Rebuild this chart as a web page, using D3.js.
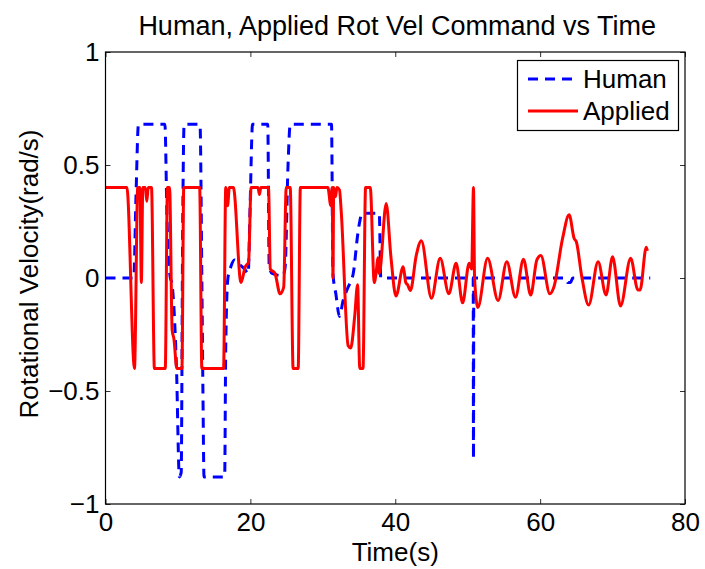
<!DOCTYPE html>
<html>
<head>
<meta charset="utf-8">
<script src="https://cdn.jsdelivr.net/npm/d3@7"></script>
<style>
  html, body { margin: 0; padding: 0; background: #fff; }
  svg text { font-family: "Liberation Sans", Arial, Helvetica, sans-serif; fill: #000; }
</style>
</head>
<body>
<svg id="chart" width="705" height="569"></svg>
<script>
// Human command (blue dashed)
const humanT = [0, 3.9, 4.2, 4.55, 8.2, 8.5, 8.95, 9.15, 9.8, 10.2, 10.45, 10.65, 10.85, 13.05, 13.3, 13.45, 13.6, 16.45, 16.6, 16.9, 17.3, 17.8, 18.5, 19.2, 19.7, 19.95, 20.3, 22.4, 22.6, 23.0, 24.5, 24.8, 25.2, 25.5, 31.2, 31.4, 31.8, 32.3, 32.8, 33.5, 34.2, 34.85, 35.1, 35.4, 37.8, 38.0, 50.76, 50.8, 50.84, 63.5, 63.8, 64.2, 64.5, 75.2];
const humanV = [0, 0, 0.35, 0.68, 0.68, 0.25, 0.0, -0.02, -0.4, -0.88, -0.86, 0.2, 0.68, 0.68, 0.0, -0.5, -0.88, -0.88, -0.3, 0.0, 0.05, 0.08, 0.06, 0.04, 0.02, 0.3, 0.68, 0.68, 0.05, 0.02, 0.01, 0.05, 0.5, 0.68, 0.68, 0.02, -0.07, -0.17, -0.1, -0.04, 0.02, 0.2, 0.25, 0.286, 0.286, 0.0, 0, -0.8, 0, 0, -0.02, -0.02, 0, 0];

// Applied command (red solid)
const appliedT = [0, 2.95, 4.0, 4.45, 4.75, 4.95, 5.15, 5.5, 5.7, 5.9, 6.35, 6.75, 8.25, 8.55, 8.85, 9.2, 9.45, 9.85, 10.55, 10.8, 13.0, 13.3, 16.3, 16.6, 16.85, 17.1, 17.65, 18.7, 19.3, 19.75, 20.1, 21.05, 21.25, 21.45, 22.5, 22.75, 23.4, 24.1, 24.6, 24.95, 25.5, 25.9, 26.6, 26.9, 30.7, 31.1, 31.3, 31.4, 31.5, 31.75, 31.95, 32.3, 32.55, 33.5, 33.85, 34.4, 34.8, 35.1, 35.55, 35.9, 36.55, 37.1, 37.4, 37.6, 37.8, 38.75, 39.4, 40.1, 41.1, 41.45, 41.7, 42.1, 42.9, 43.6, 45.0, 46.2, 47.4, 48.4, 49.3, 50.2, 50.55, 50.8, 50.95, 51.4, 52.75, 54.2, 55.4, 56.6, 57.7, 58.7, 59.55, 60.1, 61.35, 61.9, 63.1, 64.0, 64.7, 65.0, 65.75, 66.7, 68.0, 69.1, 70.0, 71.1, 72.5, 73.5, 73.8, 74.65, 74.8];
const appliedV = [0.4, 0.4, -0.4, 0.4, 0.4, -0.02, 0.4, 0.4, 0.34, 0.4, 0.4, -0.4, -0.4, 0.4, 0.4, -0.23, -0.27, -0.4, -0.4, 0.4, 0.4, -0.4, -0.4, 0.4, 0.32, 0.4, 0.4, -0.02, 0.05, 0.07, 0.4, 0.4, 0.37, 0.4, 0.4, 0.04, 0.02, -0.07, -0.04, 0.4, 0.4, -0.4, -0.4, 0.4, 0.4, 0.32, 0.4, 0.0, 0.4, 0.36, 0.4, 0.39, 0.29, -0.3, -0.31, -0.17, -0.03, -0.4, -0.4, 0.4, 0.4, -0.02, 0.035, 0.09, 0.02, 0.33, 0.094, -0.08, 0.05, -0.02, -0.03, -0.055, 0.1, 0.165, -0.09, 0.087, -0.07, 0.065, -0.11, 0.065, 0.04, 0.4, 0.0, -0.13, 0.087, -0.1, 0.072, -0.085, 0.083, -0.075, 0.08, 0.1, -0.07, -0.04, 0.175, 0.28, 0.175, 0.16, 0.006, -0.12, 0.072, -0.075, 0.094, -0.124, 0.087, -0.053, -0.053, 0.136, 0.12];

const xTicks = [0, 20, 40, 60, 80];
const xTickLabels = ["0", "20", "40", "60", "80"];
const yTicks = [-1, -0.5, 0, 0.5, 1];
const yTickLabels = ["\u22121", "\u22120.5", "0", "0.5", "1"];
const seriesNames = ["Human", "Applied"];
const seriesColors = ["#0000ff", "#ff0000"];

const titleText = "Human, Applied Rot Vel Command vs Time";
const xLabel = "Time(s)";
const yLabel = "Rotational Velocity(rad/s)";

const svg = d3.select("#chart");
const plotL = 105.5, plotR = 685, plotT = 52, plotB = 504;
const x = d3.scaleLinear().domain([0, 80]).range([plotL, plotR]);
const y = d3.scaleLinear().domain([-1, 1]).range([plotB, plotT]);
const fontSize = 26;

// Inward ticks on all four sides
const tickLen = 5;
function styleAxis(g) {
  g.select(".domain").remove();
  g.selectAll(".tick line").attr("stroke", "#333").attr("stroke-width", 1);
  g.selectAll(".tick text").style("font-size", fontSize + "px")
    .style("font-family", "'Liberation Sans', Arial, sans-serif");
}
svg.append("g").attr("transform", `translate(0,${plotB})`)
  .call(d3.axisBottom(x).tickValues(xTicks).tickSize(-tickLen).tickPadding(9)
    .tickFormat((d, i) => xTickLabels[i]))
  .call(styleAxis);
svg.append("g").attr("transform", `translate(0,${plotT})`)
  .call(d3.axisTop(x).tickValues(xTicks).tickSize(-tickLen).tickFormat(""))
  .call(styleAxis);
svg.append("g").attr("transform", `translate(${plotL},0)`)
  .call(d3.axisLeft(y).tickValues(yTicks).tickSize(-tickLen).tickPadding(6)
    .tickFormat((d, i) => yTickLabels[i]))
  .call(styleAxis);
svg.append("g").attr("transform", `translate(${plotR},0)`)
  .call(d3.axisRight(y).tickValues(yTicks).tickSize(-tickLen).tickFormat(""))
  .call(styleAxis);

// Series lines
const line = d3.line().curve(d3.curveMonotoneX).x(d => x(d[0])).y(d => y(d[1]));
const human = humanT.map((t, i) => [t, humanV[i]]);
const applied = appliedT.map((t, i) => [t, appliedV[i]]);

svg.append("path").datum(human)
  .attr("d", line).attr("fill", "none")
  .attr("stroke", seriesColors[0]).attr("stroke-width", 3)
  .attr("stroke-dasharray", "10,7").attr("stroke-linejoin", "round");
svg.append("path").datum(applied)
  .attr("d", line).attr("fill", "none")
  .attr("stroke", seriesColors[1]).attr("stroke-width", 3)
  .attr("stroke-linejoin", "round");

// Axes box
svg.append("rect").attr("x", plotL).attr("y", plotT)
  .attr("width", plotR - plotL).attr("height", plotB - plotT)
  .attr("fill", "none").attr("stroke", "#000").attr("stroke-width", 1.2);

// Legend
const lg = svg.append("g");
lg.append("rect").attr("x", 517.5).attr("y", 60.5).attr("width", 161).attr("height", 70)
  .attr("fill", "#fff").attr("stroke", "#000").attr("stroke-width", 1.2);
seriesNames.forEach((name, i) => {
  const yy = 79 + i * 32;
  lg.append("line").attr("x1", 528).attr("x2", 578).attr("y1", yy).attr("y2", yy)
    .attr("stroke", seriesColors[i]).attr("stroke-width", 3)
    .attr("stroke-dasharray", i === 0 ? "10,7" : null);
  lg.append("text").attr("x", 583).attr("y", yy).attr("dy", "0.35em")
    .style("font-size", fontSize + "px").text(name);
});

// Titles
svg.append("text").attr("x", (plotL + plotR) / 2 + 2).attr("y", 35)
  .attr("text-anchor", "middle").style("font-size", "27px").text(titleText);
svg.append("text").attr("x", (plotL + plotR) / 2).attr("y", 561)
  .attr("text-anchor", "middle").style("font-size", fontSize + "px").text(xLabel);
svg.append("text").attr("transform", `translate(38,${(plotT + plotB) / 2 - 4}) rotate(-90)`)
  .attr("text-anchor", "middle").style("font-size", fontSize + "px").text(yLabel);
</script>
</body>
</html>
